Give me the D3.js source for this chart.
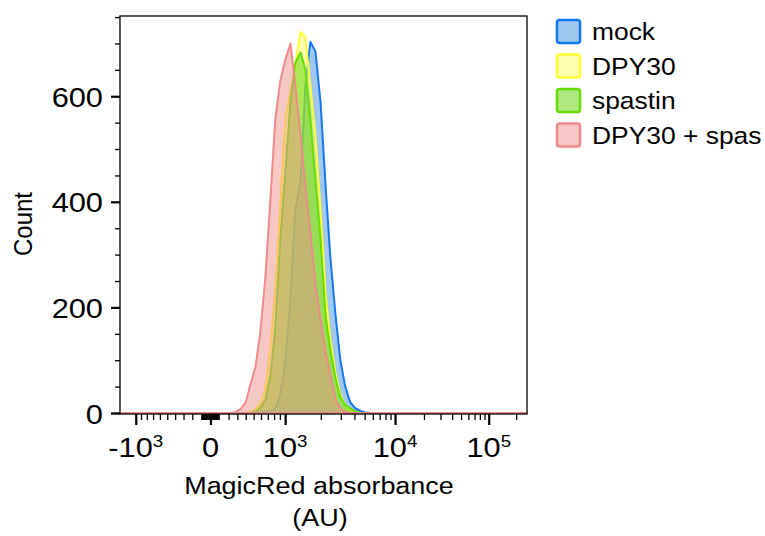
<!DOCTYPE html>
<html>
<head>
<meta charset="utf-8">
<script src="https://cdn.jsdelivr.net/npm/d3@7"></script>
<style>
	body { margin: 0; background: #fff; }
	text { font-family: "Liberation Sans", Arial, sans-serif; fill: #000; }
</style>
</head>
<body>
<div class="histo-container"></div>
<script>
//---->DATA<-----//
// bin centres (AU) shared by all four histograms
const bins = [220, 280, 340, 400, 460, 525, 590, 665, 740, 820, 910, 1000, 1110, 1220, 1350,
	1480, 1630, 1800, 1990, 2200, 2420, 2690, 2970, 3290, 3660, 4080, 4550, 5050, 5670];

const mockCounts = [0, 0, 0, 0, 0, 0, 1, 3, 5, 9, 35, 95, 220, 385, 440,
	619, 703, 685, 588, 429, 295, 185, 100, 50, 20, 9, 4, 1, 0];
const dpy30Counts = [0, 0, 0, 0, 2, 8, 18, 45, 125, 235, 400, 556, 610, 660, 722,
	712, 620, 524, 385, 225, 140, 75, 35, 14, 5, 1, 0, 0, 0];
const spastinCounts = [0, 0, 0, 0, 0, 3, 10, 25, 70, 160, 330, 450, 590, 664, 683,
	650, 556, 440, 330, 182, 120, 65, 30, 15, 9, 3, 0, 0, 0];
const dpySpasCounts = [0, 2, 8, 20, 55, 88, 152, 260, 404, 556, 630, 668, 700, 619, 525,
	430, 342, 243, 175, 115, 72, 25, 8, 2, 0, 0, 0, 0, 0];

const seriesNames = ['mock', 'DPY30', 'spastin', 'DPY30 + spas'];
const strokeColors = ['#1478f0', '#ffff33', '#66dd00', '#f08a8a'];
const fillColors = ['#4191e1', '#ffff64', '#5dd500', '#ec928c'];

const yMajor = [0, 200, 400, 600];
const xMajor = [-1000, 0, 1000, 10000, 100000];
const xMajorBase = ['-10', '0', '10', '10', '10'];
const xMajorSup = ['3', '', '3', '4', '5'];

//---->LAYOUT<-----//
const margin = { left: 120, top: 16 },
	w = 407,
	h = 397,
	yMax = 752,
	stretch = 1.1;

// logicle (biexponential) parameters, FlowJo style
const T = 262144, M = 4.5, W = 1.0;
const mL = M * Math.LN10, wL = W * Math.LN10;
const p = (function() {
	let lo = 1.0001, hi = 100;
	for (let i = 0; i < 80; i++) {
		const mid = (lo + hi) / 2;
		if (2 * mid * Math.log(mid) / (mid + 1) < wL) lo = mid; else hi = mid;
	}
	return (lo + hi) / 2;
})();

function logicleValue(f) {
	const u = f * mL - wL,
		s = u < 0 ? -1 : 1,
		a = Math.abs(u);
	return s * T * Math.exp(-(mL - wL)) * (Math.exp(a) - p * p * Math.exp(-a / p) + p * p - 1);
}

function logicleFrac(v) {
	let lo = 0, hi = 1;
	for (let i = 0; i < 60; i++) {
		const mid = (lo + hi) / 2;
		if (logicleValue(mid) < v) lo = mid; else hi = mid;
	}
	return (lo + hi) / 2;
}

const xFrac = d3.scaleLinear().domain([0, 1]).range([0, w]);
const xMin = logicleValue(0), xMax = logicleValue(1);

function x(v) { return xFrac(logicleFrac(v)); }
x.domain = () => [xMin, xMax];
x.range = () => xFrac.range();
x.copy = () => x;

const y = d3.scaleLinear().domain([0, yMax]).range([h, 0]);

const xMinor = [].concat(
	d3.range(-900, 0, 100), d3.range(-90, 100, 10),
	d3.range(200, 1000, 100), d3.range(2000, 10000, 1000),
	d3.range(20000, 100000, 10000), [200000]);
const yMinor = d3.range(0, yMax, 50);

function addText(parent, tx, ty, str, size, anchor) {
	return parent.append('text')
		.attr('transform', `translate(${tx}, ${ty}) scale(${stretch}, 1)`)
		.attr('font-size', size)
		.attr('text-anchor', anchor)
		.text(str);
}

function build() {
	const svg = d3.select('.histo-container').append('svg')
		.attr('width', 765)
		.attr('height', 536);

	const g = svg.append('g')
		.attr('transform', `translate(${margin.left}, ${margin.top})`);

	// histograms, drawn in legend order
	const area = d3.area()
		.x(d => x(d[0]))
		.y0(y(0))
		.y1(d => y(d[1]));

	const allCounts = [mockCounts, dpy30Counts, spastinCounts, dpySpasCounts];

	allCounts.forEach((counts, i) => {
		const pts = [[xMin, 0]].concat(bins.map((b, j) => [b, counts[j]]), [[xMax, 0]]);
		g.append('path')
			.datum(pts)
			.attr('d', area)
			.attr('fill', fillColors[i])
			.attr('fill-opacity', 0.5)
			.attr('stroke', strokeColors[i])
			.attr('stroke-width', 2)
			.attr('stroke-linejoin', 'round');
	});

	// frame
	g.append('rect')
		.attr('width', w)
		.attr('height', h + 1)
		.attr('fill', 'none')
		.attr('stroke', '#000')
		.attr('stroke-width', 1.3);

	// y axis
	const yMinorAxis = g.append('g')
		.call(d3.axisLeft(y).tickValues(yMinor).tickSize(5).tickFormat(''));
	const yMajorAxis = g.append('g')
		.call(d3.axisLeft(y).tickValues(yMajor).tickSize(9).tickFormat(''));

	// x axis
	const xMinorAxis = g.append('g')
		.attr('transform', `translate(0, ${h + 1})`)
		.call(d3.axisBottom(x).tickValues(xMinor).tickSize(6).tickFormat(''));
	const xMajorAxis = g.append('g')
		.attr('transform', `translate(0, ${h + 1})`)
		.call(d3.axisBottom(x).tickValues(xMajor).tickSize(11).tickFormat(''));

	[yMinorAxis, yMajorAxis, xMinorAxis, xMajorAxis].forEach(a => a.select('.domain').remove());
	[yMinorAxis, xMinorAxis].forEach(a => a.selectAll('line').attr('stroke', '#000').attr('stroke-width', 1.3));
	[yMajorAxis, xMajorAxis].forEach(a => a.selectAll('line').attr('stroke', '#000').attr('stroke-width', 2.2));

	// tick labels
	yMajor.forEach(v => addText(g, -17, y(v) + 10.5, v, 28, 'end'));

	xMajor.forEach((v, i) => {
		const t = addText(g, x(v), 441, xMajorBase[i], 28, 'middle');
		if (xMajorSup[i]) {
			t.append('tspan')
				.attr('font-size', 17)
				.attr('dy', -10)
				.text(xMajorSup[i]);
		}
	});

	// axis titles
	addText(svg, 319, 494, 'MagicRed absorbance', 24.5, 'middle');
	addText(svg, 320, 526, '(AU)', 24.5, 'middle');

	svg.append('text')
		.attr('transform', `translate(23, 224) scale(${stretch}, 1) rotate(-90)`)
		.attr('font-size', 24)
		.attr('text-anchor', 'middle')
		.attr('dy', '0.35em')
		.text('Count');

	// legend
	const legend = svg.append('g')
		.attr('transform', 'translate(556, 19)');

	seriesNames.forEach((name, i) => {
		const row = legend.append('g')
			.attr('transform', `translate(0, ${i * 34.5})`);
		row.append('rect')
			.attr('x', 1)
			.attr('y', 1)
			.attr('width', 23)
			.attr('height', 23)
			.attr('rx', 2.5)
			.attr('fill', fillColors[i])
			.attr('fill-opacity', 0.5)
			.attr('stroke', strokeColors[i])
			.attr('stroke-width', 2.5);
		addText(row, 36, 21, name, 24, 'start');
	});
}

build();
</script>
</body>
</html>
